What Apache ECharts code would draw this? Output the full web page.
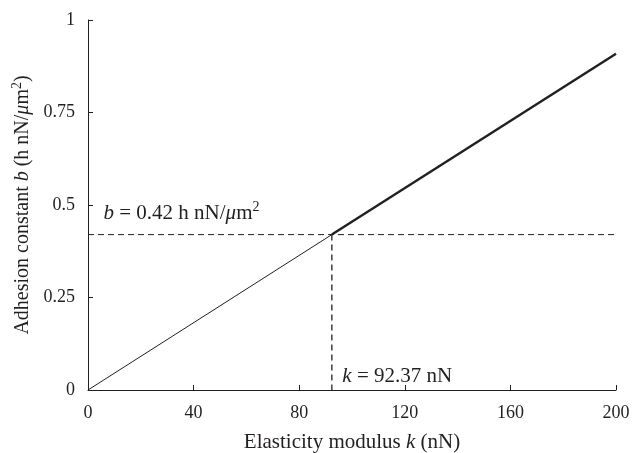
<!DOCTYPE html>
<html lang="en">
  <head>
    <meta charset="UTF-8" />
    <title>Adhesion constant vs elasticity modulus</title>
    <script src="https://cdn.jsdelivr.net/npm/echarts@6/dist/echarts.min.js"></script>
    <style>
      body { margin: 0; padding: 0; background: #fff; }
      #chart { width: 633px; height: 453px; }
    </style>
  </head>
  <body>
    <div id="chart"></div>
    <script>
      // data
      var xTicks = [0, 40, 80, 120, 160, 200];
      var yTicks = [0, 0.25, 0.5, 0.75, 1];
      var kCrit = 92.37;
      var bCrit = 0.42;
      var thinLine = [[0, 0], [92.37, 0.42]];
      var thickLine = [[92.37, 0.42], [200, 0.909]];
      var hDash = [[0, 0.42], [200, 0.42]];
      var vDash = [[92.37, 0.42], [92.37, 0]];

      var serif = '"Liberation Serif", "DejaVu Serif", serif';
      var ink = '#231f20';

      function richSet(size) {
        return {
          n: { fontFamily: serif, fontSize: size, color: ink },
          i: { fontFamily: serif, fontSize: size, color: ink, fontStyle: 'italic' },
          sup: { fontFamily: serif, fontSize: Math.round(size * 0.68), color: ink, padding: [0, 0, Math.round(size * 0.55), 0] }
        };
      }
      var hidden = { color: 'rgba(0,0,0,0)' };

      var chart = echarts.init(document.getElementById('chart'));
      chart.setOption({
        animation: false,
        grid: { left: 88, right: 17, top: 20, bottom: 63, outerBoundsMode: 'none', containLabel: false },
        xAxis: {
          type: 'value',
          min: 0, max: 200, interval: 40,
          name: '{n|Elasticity modulus }{i|k}{n| (nN)}',
          nameLocation: 'middle',
          nameGap: 42,
          nameTextStyle: { rich: richSet(21) },
          axisLine: { lineStyle: { color: ink, width: 1 } },
          axisTick: { inside: true, length: 5, lineStyle: { color: ink } },
          axisLabel: { fontFamily: serif, fontSize: 18, color: ink, margin: 14 },
          splitLine: { show: false }
        },
        yAxis: {
          type: 'value',
          min: 0, max: 1, interval: 0.25,
          name: '{n|Adhesion constant }{i|b}{n| (h nN/}{i|μ}{n|m}{sup|2}{n|)}',
          nameLocation: 'middle',
          nameGap: 50,
          nameTextStyle: { rich: richSet(20) },
          axisLine: { show: true, lineStyle: { color: ink, width: 1 } },
          axisTick: { show: true, inside: true, length: 5, lineStyle: { color: ink } },
          axisLabel: { fontFamily: serif, fontSize: 18, color: ink, margin: 13 },
          splitLine: { show: false }
        },
        series: [
          {
            type: 'line',
            data: thinLine,
            symbol: 'none',
            lineStyle: { color: ink, width: 1 }
          },
          {
            type: 'line',
            data: thickLine,
            symbol: 'none',
            lineStyle: { color: ink, width: 2.4 }
          },
          {
            type: 'line',
            data: hDash,
            symbol: 'circle',
            symbolSize: 1,
            itemStyle: hidden,
            lineStyle: { color: ink, width: 1, type: [6, 4] },
            label: {
              show: true,
              position: 'right',
              formatter: function (p) {
                return p.dataIndex === 0
                  ? '{i|b}{n| = ' + bCrit + ' h nN/}{i|μ}{n|m}{sup|2}'
                  : '';
              },
              offset: [10, -21],
              rich: richSet(21)
            }
          },
          {
            type: 'line',
            data: vDash,
            symbol: 'circle',
            symbolSize: 1,
            itemStyle: hidden,
            lineStyle: { color: ink, width: 1.3, type: [6, 4] },
            label: {
              show: true,
              position: 'right',
              formatter: function (p) {
                return p.dataIndex === 1 ? '{i|k}{n| = ' + kCrit + ' nN}' : '';
              },
              offset: [5, -14],
              rich: richSet(21)
            }
          }
        ]
      });
    </script>
  </body>
</html>
